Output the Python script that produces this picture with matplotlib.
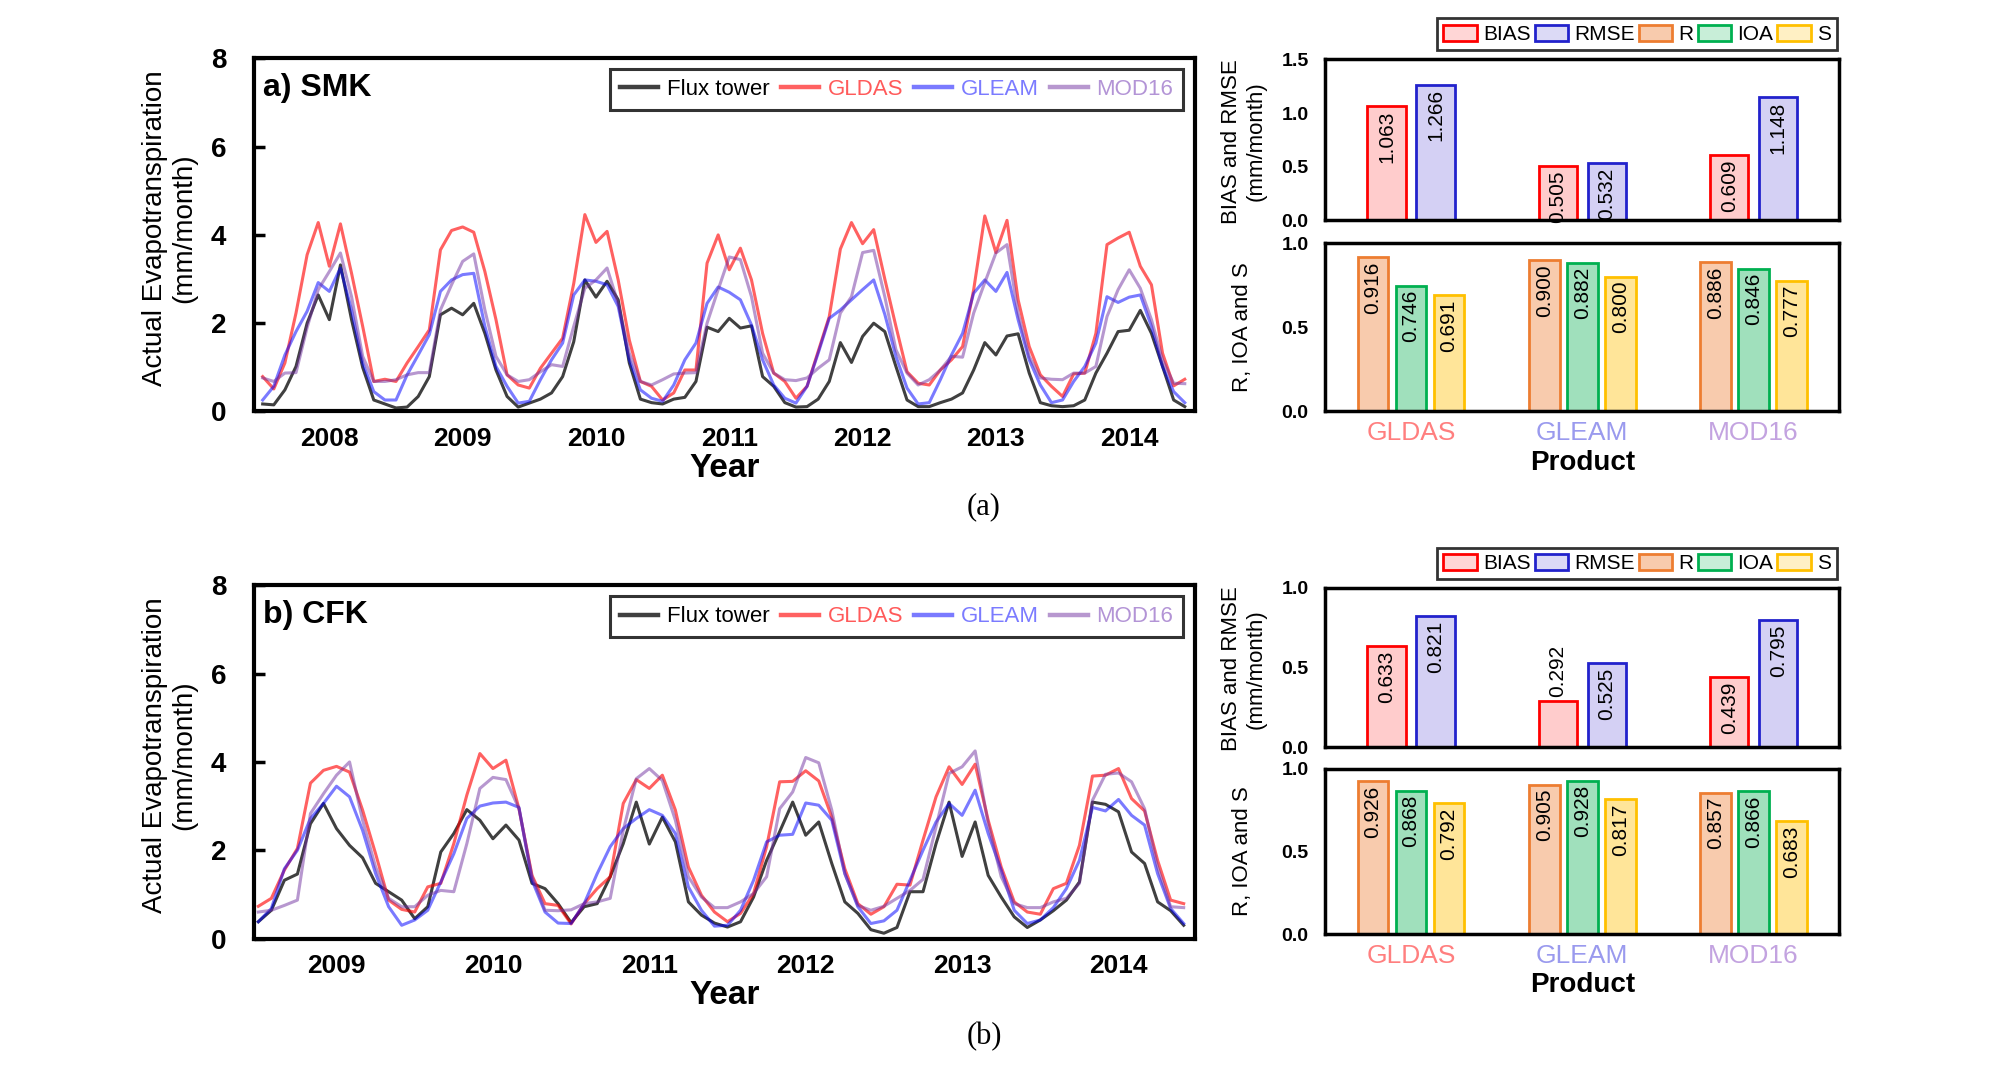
import matplotlib
matplotlib.use("Agg")
import matplotlib.pyplot as plt
from matplotlib.patches import Patch
import numpy as np

plt.rcParams['font.family'] = ['Liberation Sans', 'DejaVu Sans']

# ---- monthly ET (mm/month), SMK: Jan 2008 - Dec 2014 ----
smk_years = ['2008', '2009', '2010', '2011', '2012', '2013', '2014']
smk_flux = [0.17, 0.15, 0.49, 1.02, 2.0, 2.64, 2.08, 3.32, 2.08, 1.0, 0.26, 0.17,
            0.08, 0.1, 0.34, 0.79, 2.19, 2.34, 2.19, 2.45, 1.77, 0.94, 0.34, 0.1,
            0.19, 0.28, 0.42, 0.79, 1.58, 2.98, 2.59, 2.95, 2.53, 1.1, 0.28, 0.2,
            0.17, 0.28, 0.32, 0.68, 1.91, 1.81, 2.11, 1.89, 1.94, 0.79, 0.57, 0.2,
            0.1, 0.11, 0.28, 0.68, 1.56, 1.11, 1.7, 2.0, 1.81, 1.02, 0.26, 0.11,
            0.11, 0.2, 0.28, 0.42, 0.94, 1.56, 1.28, 1.71, 1.76, 0.87, 0.2, 0.13,
            0.11, 0.13, 0.26, 0.87, 1.32, 1.81, 1.84, 2.29, 1.77, 1.02, 0.26, 0.11]
smk_gldas = [0.79, 0.51, 1.1, 2.23, 3.55, 4.28, 3.29, 4.25, 3.13, 1.93, 0.68, 0.73,
             0.68, 1.1, 1.47, 1.85, 3.66, 4.1, 4.18, 4.06, 3.17, 2.08, 0.83, 0.6,
             0.53, 0.98, 1.32, 1.66, 2.9, 4.46, 3.83, 4.08, 2.98, 1.62, 0.68, 0.57,
             0.26, 0.42, 0.94, 0.94, 3.36, 4.0, 3.21, 3.7, 2.98, 1.77, 0.87, 0.68,
             0.3, 0.57, 1.36, 2.15, 3.68, 4.28, 3.8, 4.12, 3.0, 1.93, 0.9, 0.64,
             0.6, 0.94, 1.17, 1.47, 2.76, 4.43, 3.6, 4.33, 2.53, 1.47, 0.83, 0.57,
             0.34, 0.85, 0.87, 1.77, 3.78, 3.93, 4.06, 3.29, 2.87, 1.32, 0.58, 0.73]
smk_gleam = [0.26, 0.57, 1.28, 1.81, 2.27, 2.92, 2.72, 3.25, 2.3, 1.1, 0.45, 0.26,
             0.26, 0.83, 1.28, 1.74, 2.72, 2.98, 3.1, 3.13, 1.93, 1.02, 0.57, 0.19,
             0.23, 0.72, 1.17, 1.55, 2.64, 2.98, 2.95, 2.87, 2.38, 1.17, 0.49, 0.3,
             0.23, 0.6, 1.17, 1.55, 2.45, 2.82, 2.7, 2.53, 1.96, 1.17, 0.6, 0.3,
             0.19, 0.57, 1.32, 2.11, 2.3, 2.53, 2.76, 2.98, 2.2, 1.25, 0.53, 0.17,
             0.2, 0.72, 1.28, 1.77, 2.68, 2.98, 2.72, 3.15, 2.08, 1.17, 0.6, 0.2,
             0.26, 0.68, 1.02, 1.55, 2.6, 2.47, 2.59, 2.64, 1.93, 1.02, 0.45, 0.2]
smk_mod16 = [0.76, 0.68, 0.87, 0.88, 1.9, 2.76, 3.17, 3.59, 2.6, 1.25, 0.68, 0.68,
             0.72, 0.83, 0.88, 0.88, 2.3, 2.87, 3.4, 3.57, 2.3, 1.25, 0.83, 0.68,
             0.72, 0.9, 1.06, 1.02, 1.93, 2.79, 2.98, 3.25, 2.45, 1.32, 0.68, 0.6,
             0.72, 0.85, 0.87, 0.88, 2.0, 2.76, 3.5, 3.44, 2.6, 1.32, 0.87, 0.72,
             0.7, 0.76, 0.98, 1.17, 2.23, 2.6, 3.6, 3.65, 2.6, 1.4, 0.87, 0.6,
             0.72, 0.94, 1.25, 1.23, 2.23, 2.92, 3.59, 3.78, 2.23, 1.25, 0.76, 0.73,
             0.72, 0.87, 0.87, 1.02, 2.15, 2.76, 3.21, 2.79, 2.08, 1.17, 0.64, 0.63]

# ---- monthly ET (mm/month), CFK: Jan 2009 - Dec 2014 ----
cfk_years = ['2009', '2010', '2011', '2012', '2013', '2014']
cfk_flux = [0.38, 0.64, 1.32, 1.46, 2.6, 3.06, 2.49, 2.11, 1.83, 1.25, 1.06, 0.87,
            0.45, 0.72, 1.96, 2.38, 2.92, 2.68, 2.26, 2.57, 2.23, 1.25, 1.13, 0.79,
            0.36, 0.72, 0.79, 1.4, 2.15, 3.09, 2.14, 2.75, 2.19, 0.83, 0.53, 0.35,
            0.26, 0.38, 0.94, 1.77, 2.42, 3.09, 2.34, 2.64, 1.7, 0.83, 0.57, 0.2,
            0.12, 0.25, 1.06, 1.06, 2.15, 3.09, 1.86, 2.64, 1.43, 0.94, 0.49, 0.25,
            0.42, 0.63, 0.87, 1.28, 3.09, 3.04, 2.87, 1.96, 1.7, 0.83, 0.63, 0.3]
cfk_gldas = [0.73, 0.91, 1.55, 2.04, 3.52, 3.81, 3.9, 3.77, 2.91, 1.92, 0.87, 0.66,
             0.6, 1.17, 1.25, 2.15, 3.25, 4.19, 3.85, 4.04, 2.94, 1.43, 0.79, 0.75,
             0.33, 0.79, 1.13, 1.4, 3.06, 3.6, 3.4, 3.7, 2.91, 1.62, 0.98, 0.6,
             0.38, 0.57, 1.02, 2.08, 3.55, 3.56, 3.8, 3.57, 2.75, 1.58, 0.79, 0.55,
             0.72, 1.23, 1.21, 2.23, 3.21, 3.89, 3.49, 3.95, 2.68, 1.62, 0.83, 0.6,
             0.55, 1.13, 1.25, 2.11, 3.68, 3.7, 3.85, 3.17, 2.89, 1.77, 0.87, 0.79]
cfk_gleam = [0.38, 0.68, 1.58, 2.0, 2.72, 3.06, 3.45, 3.21, 2.45, 1.47, 0.72, 0.3,
             0.42, 0.64, 1.28, 1.92, 2.72, 3.0, 3.07, 3.09, 2.97, 1.32, 0.6, 0.35,
             0.34, 0.79, 1.47, 2.08, 2.49, 2.72, 2.92, 2.79, 2.38, 1.17, 0.64, 0.28,
             0.3, 0.64, 1.32, 2.19, 2.34, 2.36, 3.07, 3.02, 2.68, 1.47, 0.72, 0.34,
             0.4, 0.64, 1.32, 2.0, 2.64, 3.06, 2.79, 3.36, 2.38, 1.55, 0.64, 0.34,
             0.42, 0.7, 1.13, 1.77, 2.97, 2.89, 3.15, 2.79, 2.57, 1.47, 0.68, 0.34]
cfk_mod16 = [0.6, 0.64, 0.75, 0.87, 2.83, 3.28, 3.7, 4.0, 2.68, 1.62, 0.91, 0.72,
             0.72, 0.98, 1.09, 1.06, 2.15, 3.4, 3.65, 3.6, 2.94, 1.4, 0.64, 0.63,
             0.65, 0.79, 0.83, 0.91, 2.45, 3.62, 3.85, 3.58, 2.68, 1.4, 0.94, 0.7,
             0.7, 0.83, 1.02, 1.4, 2.94, 3.32, 4.1, 3.98, 2.91, 1.47, 0.75, 0.64,
             0.73, 0.91, 1.09, 1.34, 2.53, 3.74, 3.89, 4.25, 2.6, 1.4, 0.79, 0.7,
             0.7, 0.83, 0.91, 1.25, 3.13, 3.72, 3.75, 3.55, 2.94, 1.62, 0.72, 0.7]

# ---- statistics per product ----
products = ['GLDAS', 'GLEAM', 'MOD16']
smk_bias = [1.063, 0.505, 0.609]
smk_rmse = [1.266, 0.532, 1.148]
smk_r = [0.916, 0.900, 0.886]
smk_ioa = [0.746, 0.882, 0.846]
smk_s = [0.691, 0.800, 0.777]
cfk_bias = [0.633, 0.292, 0.439]
cfk_rmse = [0.821, 0.525, 0.795]
cfk_r = [0.926, 0.905, 0.857]
cfk_ioa = [0.868, 0.928, 0.866]
cfk_s = [0.792, 0.817, 0.683]

series_names = ['Flux tower', 'GLDAS', 'GLEAM', 'MOD16']
line_colors = ['#000000', '#ff0000', '#0000ff', '#7030a0']
line_alpha = [0.75, 0.62, 0.52, 0.5]
text_colors = ['#000000', '#ff5a5a', '#7b7bff', '#b394d6']
prod_colors = ['#ff7f7f', '#9a9aee', '#c3a3e0']

stat_names = ['BIAS', 'RMSE', 'R', 'IOA', 'S']
stat_face = ['#ffcccc', '#d4d0f4', '#f8cbad', '#a0e0bc', '#ffe599']
stat_edge = ['#ff0000', '#2222cc', '#ed7d31', '#00b050', '#ffc000']
legend_face = ['#ffd6d6', '#dcdaf6', '#f8cbad', '#c8eed8', '#fff0c4']


def line_panel(ax, series, years, title, xlo, xhi, legend_anchor):
    n = len(series[0])
    x = np.arange(n)
    for vals, name, c, a in zip(series, series_names, line_colors, line_alpha):
        ax.plot(x, vals, color=c, alpha=a, lw=2.2, label=name)
    ax.set_xlim(xlo, xhi)
    ax.set_ylim(0, 8)
    ax.set_yticks([0, 2, 4, 6, 8], ['0', '2', '4', '6', '8'], fontsize=20, fontweight='bold')
    ax.set_xticks(6 + 12 * np.arange(len(years)), years, fontsize=19, fontweight='bold')
    ax.tick_params(axis='y', direction='in', length=8, width=2.5, pad=20)
    ax.tick_params(axis='x', length=0, pad=11)
    for sp in ax.spines.values():
        sp.set_linewidth(3)
    ax.text(0.01, 0.915, title, transform=ax.transAxes, fontsize=23,
            fontweight='bold', va='center')
    ax.set_xlabel('Year', fontsize=24, fontweight='bold')
    ax.xaxis.set_label_coords(0.5, -0.118)
    ax.set_ylabel('Actual Evapotranspiration\n(mm/month)', fontsize=20)
    ax.yaxis.set_label_coords(-0.06, 0.52)
    leg = ax.legend(loc='upper right', bbox_to_anchor=legend_anchor, ncol=4,
                    fontsize=16, frameon=True, fancybox=False, edgecolor='black',
                    handlelength=1.7, handletextpad=0.4, columnspacing=0.5,
                    borderpad=0.45, borderaxespad=0, labelcolor=text_colors)
    leg.get_frame().set_linewidth(2.2)
    for h in leg.get_lines():
        h.set_linewidth(3.2)


def label_bars(ax, xs, vals, ymax):
    for xv, v in zip(xs, vals):
        if v / ymax > 0.33:
            ax.annotate('%.3f' % v, (xv, v), xytext=(0, -3), textcoords='offset points',
                        rotation=90, ha='center', va='top', fontsize=15)
        else:
            ax.annotate('%.3f' % v, (xv, v), xytext=(0, 3), textcoords='offset points',
                        rotation=90, ha='center', va='bottom', fontsize=15)


def bar_panels(ax_top, ax_low, bias, rmse, r, ioa, s, top_max):
    g = np.arange(len(products))
    for vals, off, i in [(bias, -0.143, 0), (rmse, 0.143, 1)]:
        ax_top.bar(g + off, vals, 0.225, color=stat_face[i], edgecolor=stat_edge[i], lw=2)
        label_bars(ax_top, g + off, vals, top_max)
    for vals, off, i in [(r, -0.222, 2), (ioa, 0.0, 3), (s, 0.222, 4)]:
        ax_low.bar(g + off, vals, 0.178, color=stat_face[i], edgecolor=stat_edge[i], lw=2)
        label_bars(ax_low, g + off, vals, 1.0)

    top_ticks = np.arange(0, top_max + 0.01, 0.5)
    ax_top.set_ylim(0, top_max)
    ax_top.set_yticks(top_ticks, ['%.1f' % t for t in top_ticks], fontsize=14, fontweight='bold')
    ax_top.set_xticks([])
    ax_low.set_ylim(0, 1.0)
    ax_low.set_yticks([0, 0.5, 1.0], ['0.0', '0.5', '1.0'], fontsize=14, fontweight='bold')
    ax_low.set_xticks(g, products, fontsize=19)
    for lbl, c in zip(ax_low.get_xticklabels(), prod_colors):
        lbl.set_color(c)
    for ax in (ax_top, ax_low):
        ax.set_xlim(-0.5, 2.5)
        ax.tick_params(length=0, pad=12)
        ax.tick_params(axis='x', pad=7)
        for sp in ax.spines.values():
            sp.set_linewidth(2.5)
    ax_top.set_ylabel('BIAS and RMSE\n(mm/month)', fontsize=16)
    ax_top.yaxis.set_label_coords(-0.115, 0.49)
    ax_low.set_ylabel('R, IOA and S', fontsize=16)
    ax_low.yaxis.set_label_coords(-0.14, 0.5)
    ax_low.set_xlabel('Product', fontsize=20, fontweight='bold')
    ax_low.xaxis.set_label_coords(0.5, -0.23)


def bar_legend(fig, top):
    handles = [Patch(facecolor=f, edgecolor=e, lw=2) for f, e in zip(legend_face, stat_edge)]
    leg = fig.legend(handles, stat_names, loc='upper right', bbox_to_anchor=(0.915, top),
                     ncol=5, fontsize=15, frameon=True, fancybox=False, edgecolor='black',
                     handlelength=1.6, handleheight=0.8, handletextpad=0.3,
                     columnspacing=0.2, borderpad=0.3, borderaxespad=0)
    leg.get_frame().set_linewidth(2)


fig = plt.figure(figsize=(20.08, 10.8), dpi=100)

ax_a = fig.add_axes([0.1265, 0.619, 0.4685, 0.327])
line_panel(ax_a, [smk_flux, smk_gldas, smk_gleam, smk_mod16], smk_years, 'a) SMK',
           -0.78, 83.9, (0.988, 0.969))
ax_b = fig.add_axes([0.1265, 0.131, 0.4685, 0.327])
line_panel(ax_b, [cfk_flux, cfk_gldas, cfk_gleam, cfk_mod16], cfk_years, 'b) CFK',
           -0.33, 71.85, (0.988, 0.969))

ax_a_top = fig.add_axes([0.660, 0.796, 0.256, 0.149])
ax_a_low = fig.add_axes([0.660, 0.619, 0.256, 0.156])
bar_panels(ax_a_top, ax_a_low, smk_bias, smk_rmse, smk_r, smk_ioa, smk_s, 1.5)
ax_b_top = fig.add_axes([0.660, 0.308, 0.256, 0.148])
ax_b_low = fig.add_axes([0.660, 0.135, 0.256, 0.153])
bar_panels(ax_b_top, ax_b_low, cfk_bias, cfk_rmse, cfk_r, cfk_ioa, cfk_s, 1.0)

bar_legend(fig, 0.983)
bar_legend(fig, 0.493)

fig.text(0.490, 0.531, '(a)', fontsize=22, family=['Liberation Serif', 'DejaVu Serif'],
         ha='center', va='center')
fig.text(0.490, 0.040, '(b)', fontsize=22, family=['Liberation Serif', 'DejaVu Serif'],
         ha='center', va='center')

fig.savefig('out.png', dpi=100)
